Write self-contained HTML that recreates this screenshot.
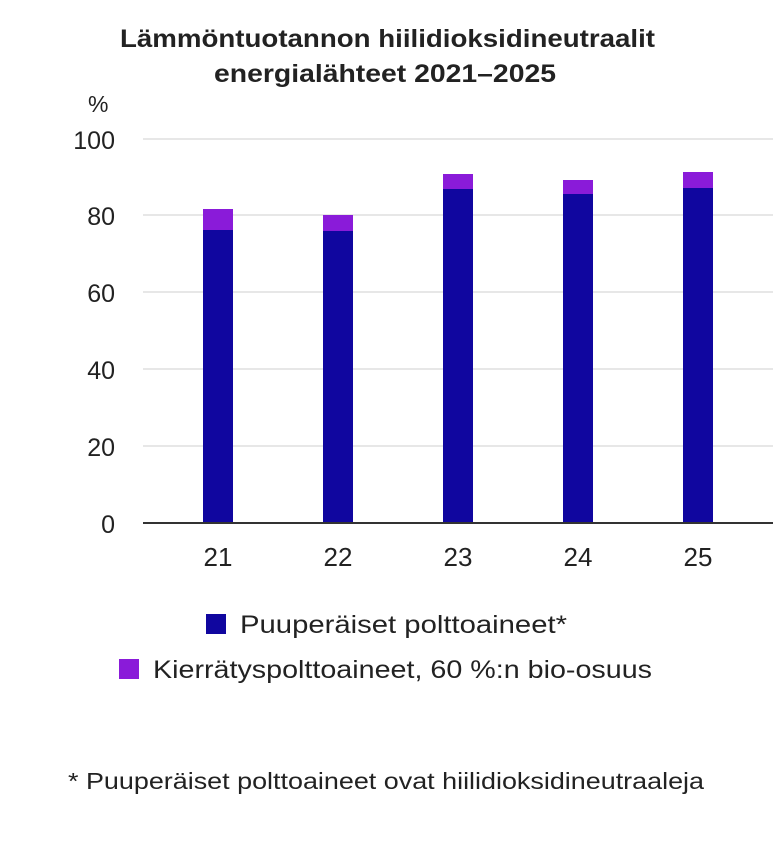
<!DOCTYPE html>
<html><head><style>
body{margin:0;background:#fff;}
svg text{font-family:"Liberation Sans",sans-serif;}
</style></head><body>
<svg width="773" height="839" xmlns="http://www.w3.org/2000/svg">
<text x="120" y="47" font-size="25" font-weight="bold" fill="#222" textLength="535" lengthAdjust="spacingAndGlyphs">Lämmöntuotannon hiilidioksidineutraalit</text>
<text x="214" y="82" font-size="25" font-weight="bold" fill="#222" textLength="342" lengthAdjust="spacingAndGlyphs">energialähteet 2021–2025</text>
<text x="88" y="112" font-size="23" fill="#222">%</text>
<g stroke="#cfcfcf" stroke-width="1">
<line x1="143" y1="139" x2="773" y2="139"/>
<line x1="143" y1="215" x2="773" y2="215"/>
<line x1="143" y1="292" x2="773" y2="292"/>
<line x1="143" y1="369" x2="773" y2="369"/>
<line x1="143" y1="446" x2="773" y2="446"/>
</g>
<g font-size="25" fill="#222" text-anchor="end">
<text x="115" y="149">100</text>
<text x="115" y="225">80</text>
<text x="115" y="302">60</text>
<text x="115" y="379">40</text>
<text x="115" y="456">20</text>
<text x="115" y="533">0</text>
</g>
<g fill="#10069f">
<rect x="203" y="230" width="30" height="293"/>
<rect x="323" y="231" width="30" height="292"/>
<rect x="443" y="189" width="30" height="334"/>
<rect x="563" y="194" width="30" height="329"/>
<rect x="683" y="188" width="30" height="335"/>
</g>
<g fill="#8a1bd9">
<rect x="203" y="209" width="30" height="21"/>
<rect x="323" y="215" width="30" height="16"/>
<rect x="443" y="174" width="30" height="15"/>
<rect x="563" y="180" width="30" height="14"/>
<rect x="683" y="172" width="30" height="16"/>
</g>
<line x1="143" y1="523" x2="773" y2="523" stroke="#333" stroke-width="2"/>
<g font-size="26" fill="#222" text-anchor="middle">
<text x="218" y="566">21</text>
<text x="338" y="566">22</text>
<text x="458" y="566">23</text>
<text x="578" y="566">24</text>
<text x="698" y="566">25</text>
</g>
<rect x="206" y="614" width="20" height="20" fill="#10069f"/>
<text x="240" y="633" font-size="25" fill="#222" textLength="327" lengthAdjust="spacingAndGlyphs">Puuperäiset polttoaineet*</text>
<rect x="119" y="659" width="20" height="20" fill="#8a1bd9"/>
<text x="153" y="678" font-size="25" fill="#222" textLength="499" lengthAdjust="spacingAndGlyphs">Kierrätyspolttoaineet, 60 %:n bio-osuus</text>
<text x="68" y="789" font-size="23" fill="#222" textLength="636" lengthAdjust="spacingAndGlyphs">* Puuperäiset polttoaineet ovat hiilidioksidineutraaleja</text>
</svg>
</body></html>
